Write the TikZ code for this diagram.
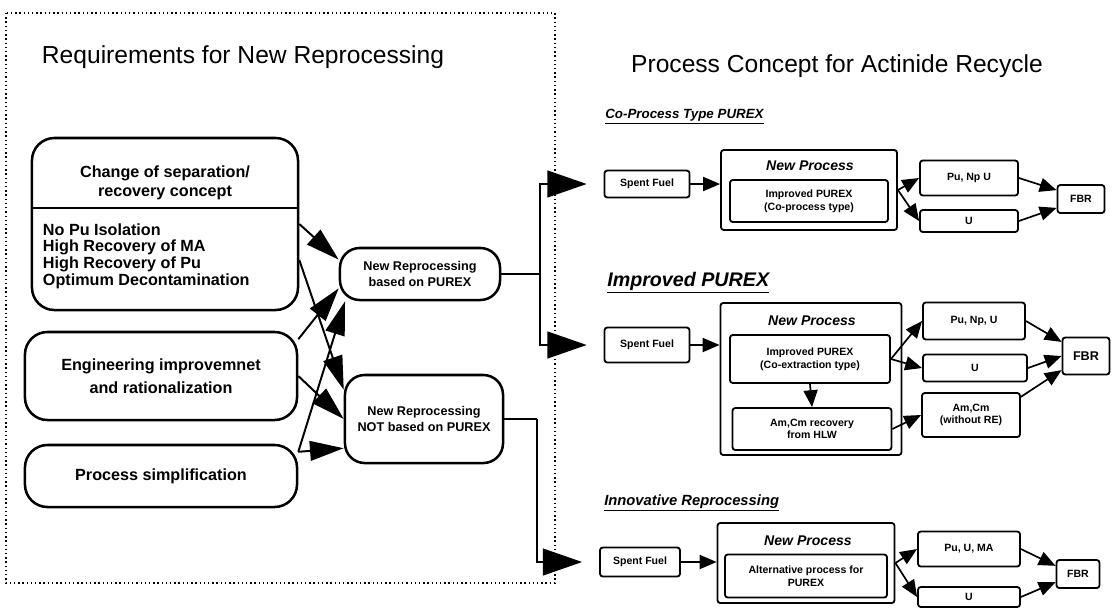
\documentclass[tikz,border=0pt]{standalone}
\usepackage{fontspec}
\setmainfont{Liberation Sans}
\usetikzlibrary{arrows.meta}

\tikzset{
  reqbox/.style={draw, line width=1.8pt, rounded corners=16pt, inner sep=0pt, align=center,
    font=\fontsize{11.5}{16.5}\selectfont\bfseries},
  routebox/.style={draw, line width=1.8pt, rounded corners=14pt, inner sep=0pt, align=center,
    font=\fontsize{9}{12}\selectfont\bfseries},
  reqarrow/.style={line width=1.4pt, -{Triangle[length=24pt,width=14pt]}},
  bigarrow/.style={line width=1.6pt, -{Triangle[length=28pt,width=19pt]}, shorten >=12pt},
  heading/.style={anchor=west, inner sep=0pt, font=\fontsize{9.5}{11}\selectfont\bfseries\itshape},
  procbox/.style={draw, line width=1.3pt, rounded corners=2pt, inner sep=0pt},
  smallbox/.style={draw, line width=1.3pt, rounded corners=2pt, inner sep=0pt, align=center,
    font=\fontsize{7.5}{9}\selectfont\bfseries},
  proclabel/.style={inner sep=0pt, font=\fontsize{10}{12}\selectfont\bfseries\itshape},
  flow/.style={line width=1.2pt, -{Triangle[length=12pt,width=10pt]}}
}

\begin{document}
\begin{tikzpicture}[x=0.025cm, y=-0.025cm]
\useasboundingbox (0,0) rectangle (1112,608);
\fill[white] (0,0) rectangle (1112,608);

\draw[line width=1pt, dotted] (6,13) rectangle (555,583);

\node[font=\fontsize{17.5}{20}\selectfont] (lefttitle) at (243,57) {Requirements for New Reprocessing};
\node[font=\fontsize{17.5}{20}\selectfont] (righttitle) at (837,66) {Process Concept for Actinide Recycle};

% requirements
\node[reqbox, minimum width=6.65cm, minimum height=4.3cm] (box1) at (165,224) {};
\coordinate (div) at (0,208);
\draw[line width=1.4pt] (box1.west |- div) -- (box1.east |- div);
\node[align=center, font=\fontsize{11.5}{13.5}\selectfont\bfseries] (box1top) at (165,183)
  {Change of separation/\\recovery concept};
\node[anchor=west, align=left, font=\fontsize{11.5}{11.9}\selectfont\bfseries] (box1list) at (38,256)
  {No Pu Isolation\\High Recovery of MA\\High Recovery of Pu\\Optimum Decontamination};
\node[reqbox, minimum width=6.8cm, minimum height=2.2cm] (box2) at (161,376)
  {Engineering improvemnet\\and rationalization};
\node[reqbox, minimum width=6.8cm, minimum height=1.55cm] (box3) at (161,476) {Process simplification};

\node[routebox, minimum width=4.0cm, minimum height=1.3cm] (based) at (420,274)
  {New Reprocessing\\based on PUREX};
\node[routebox, minimum width=3.95cm, minimum height=2.2cm] (notbased) at (424,419)
  {New Reprocessing\\NOT based on PUREX};

\draw[reqarrow] (box1.east) -- (based.170);
\draw[reqarrow] (box2.15) -- (based.-170);
\draw[reqarrow] (box3.10) -- (based.-160);
\draw[reqarrow] (box1.-15) -- (notbased.160);
\draw[reqarrow] (box2.east) -- (notbased.west);
\draw[reqarrow] (box3.10) -- (notbased.-160);

% co-process type
\node[heading] (head1) at (605,117) {\underline{Co-Process Type PUREX}};
\node[smallbox, minimum width=2.125cm, minimum height=0.675cm] (sf1) at (647,184) {Spent Fuel};
\node[procbox, minimum width=4.4cm, minimum height=2cm] (np1) at (809,190) {};
\node[proclabel] (np1lbl) at (810,166) {New Process};
\node[smallbox, minimum width=3.95cm, minimum height=1.05cm] (in1) at (809,201) {Improved PUREX\\(Co-process type)};
\node[smallbox, minimum width=2.45cm, minimum height=0.875cm] (pu1) at (969,178) {Pu, Np U};
\node[smallbox, minimum width=2.45cm, minimum height=0.55cm] (u1) at (969,221) {U};
\node[smallbox, minimum width=1.175cm, minimum height=0.7cm] (fbr1) at (1081,199) {FBR};

\draw[flow] (sf1.east) -- (sf1.east -| np1.west);
\draw[flow] (np1.east) -- (pu1.west);
\draw[flow] (np1.east) -- (u1.west);
\draw[flow] (pu1.east) -- (fbr1.160);
\draw[flow] (u1.east) -- (fbr1.200);

% improved purex
\node[heading, font=\fontsize{14}{16}\selectfont\bfseries\itshape] (head2) at (607,283) {\underline{Improved PUREX}};
\node[smallbox, minimum width=2.125cm, minimum height=0.875cm] (sf2) at (647,345) {Spent Fuel};
\node[procbox, minimum width=4.525cm, minimum height=3.8cm] (np2) at (811,379) {};
\node[proclabel] (np2lbl) at (812,321) {New Process};
\node[smallbox, minimum width=4.0cm, minimum height=1.2cm] (in2a) at (810,359) {Improved PUREX\\(Co-extraction type)};
\node[smallbox, minimum width=3.975cm, minimum height=1.05cm] (in2b) at (812,429) {Am,Cm recovery\\from HLW};
\node[smallbox, minimum width=2.55cm, minimum height=0.925cm] (pu2) at (974,321) {Pu, Np, U};
\node[smallbox, minimum width=2.6cm, minimum height=0.675cm] (u2) at (975,368) {U};
\node[smallbox, minimum width=2.45cm, minimum height=1.1cm] (am2) at (971,415) {Am,Cm\\(without RE)};
\node[smallbox, minimum width=1.175cm, minimum height=0.925cm, font=\fontsize{9}{11}\selectfont\bfseries] (fbr2) at (1086,356) {FBR};

\draw[flow] (sf2.east) -- (sf2.east -| np2.west);
\draw[flow] (in2a.south) -- (in2b.north);
\draw[flow] (in2a.east) -- (pu2.west);
\draw[flow] (in2a.east) -- (u2.west);
\draw[flow] (in2b.east) -- (am2.west);
\draw[flow] (pu2.east) -- (fbr2.150);
\draw[flow] (u2.east) -- (fbr2.west);
\draw[flow] (am2.20) -- (fbr2.-150);

% innovative
\node[heading, font=\fontsize{10.5}{12}\selectfont\bfseries\itshape] (head3) at (604,503) {\underline{Innovative Reprocessing}};
\node[smallbox, minimum width=2.0cm, minimum height=0.725cm] (sf3) at (640,562) {Spent Fuel};
\node[procbox, minimum width=4.425cm, minimum height=2cm] (np3) at (806,563) {};
\node[proclabel] (np3lbl) at (808,541) {New Process};
\node[smallbox, minimum width=4.05cm, minimum height=1.075cm] (in3) at (806,576) {Alternative process for\\PUREX};
\node[smallbox, minimum width=2.55cm, minimum height=0.875cm] (pu3) at (969,549) {Pu, U, MA};
\node[smallbox, minimum width=2.55cm, minimum height=0.5cm] (u3) at (969,597) {U};
\node[smallbox, minimum width=1.075cm, minimum height=0.7cm] (fbr3) at (1078,574) {FBR};

\draw[flow] (sf3.east) -- (sf3.east -| np3.west);
\draw[flow] (np3.east) -- (pu3.west);
\draw[flow] (np3.east) -- (u3.west);
\draw[flow] (pu3.east) -- (fbr3.160);
\draw[flow] (u3.east) -- (fbr3.200);

% branches to the concepts
\coordinate (fork1) at (540,274);
\coordinate (fork2) at (537,419);
\draw[line width=1.6pt] (based.east) -- (fork1);
\draw[bigarrow] (fork1) |- (sf1.west);
\draw[bigarrow] (fork1) |- (sf2.west);
\draw[line width=1.6pt] (notbased.east) -- (fork2);
\draw[bigarrow] (fork2) |- (sf3.west);
\end{tikzpicture}
\end{document}
